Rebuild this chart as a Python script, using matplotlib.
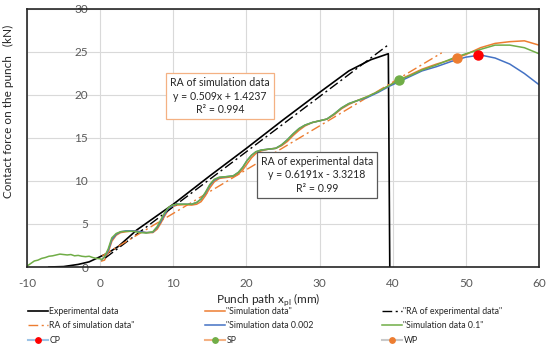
import matplotlib
matplotlib.use("Agg")
import matplotlib.pyplot as plt

plt.rcParams['font.family'] = ['Lato', 'DejaVu Sans']
plt.rcParams['axes.unicode_minus'] = False

# ---- data ----
exp_x = [-7, -5, -3, -1.5, 0, 1, 2.5, 5, 7.5, 10, 15, 20, 25, 30, 34, 37, 39.4, 39.6]
exp_y = [0, 0.05, 0.3, 0.6, 1.2, 1.6, 2.4, 4.3, 5.8, 7.3, 10.6, 13.8, 17.1, 20.3, 22.8, 24.1, 24.8, 0]

sim_x = [0.2, 0.6, 1.1, 1.6, 2.2, 2.8, 3.5, 4.5, 5.5, 6.3, 7.2, 7.8, 8.3, 8.8, 9.3, 9.9,
         10.5, 11.5, 12.5, 13.2, 13.8, 14.4, 15.0, 15.6, 16.3, 17.2, 18.2, 18.9, 19.5, 20.1,
         20.7, 21.3, 22.0, 23.0, 24.0, 24.8, 25.6, 26.4, 27.2, 28.0, 29.0, 30.0, 31.0, 32.0,
         33.0, 34.0, 35.0, 36.5, 38.0, 39.5, 41.0, 42.5, 44.0, 46.0, 48.0, 50.0, 52.0, 54.0,
         56.0, 58.0, 60.0]
sim_y = [0.7, 0.8, 1.7, 3.0, 3.7, 4.0, 4.1, 4.2, 4.1, 4.0, 4.0, 4.4, 5.1, 5.9, 6.6, 7.0,
         7.2, 7.25, 7.2, 7.3, 7.6, 8.3, 9.2, 9.9, 10.3, 10.4, 10.5, 10.8, 11.3, 12.0,
         12.7, 13.2, 13.5, 13.7, 13.8, 14.1, 14.6, 15.3, 15.9, 16.4, 16.8, 17.0, 17.2, 17.7,
         18.4, 18.9, 19.3, 19.8, 20.4, 21.1, 21.8, 22.4, 23.0, 23.6, 24.1, 24.7, 25.5, 26.0,
         26.2, 26.3, 25.8]
sim002_y = [0.85, 1.15, 1.9, 3.2, 3.8, 4.1, 4.2, 4.2, 4.1, 4.0, 4.05, 4.6, 5.3, 6.1, 6.8, 7.1,
            7.3, 7.3, 7.3, 7.5, 7.9, 8.6, 9.5, 10.1, 10.4, 10.5, 10.6, 11.0, 11.6, 12.4,
            13.0, 13.4, 13.6, 13.7, 13.8, 14.2, 14.8, 15.5, 16.1, 16.5, 16.8, 17.0, 17.2, 17.8,
            18.5, 19.0, 19.3, 19.7, 20.3, 21.0, 21.6, 22.2, 22.8, 23.3, 23.9, 24.4, 24.65, 24.3,
            23.6, 22.5, 21.2]
sim01_y = [0.85, 1.2, 2.1, 3.4, 3.9, 4.1, 4.15, 4.15, 4.0, 3.95, 4.1, 4.7, 5.5, 6.3, 6.9, 7.2,
           7.3, 7.3, 7.3, 7.5, 7.9, 8.7, 9.6, 10.2, 10.45, 10.5, 10.6, 11.0, 11.6, 12.4,
           13.0, 13.4, 13.6, 13.7, 13.8, 14.2, 14.8, 15.5, 16.1, 16.5, 16.8, 17.0, 17.2, 17.8,
           18.5, 19.0, 19.3, 19.8, 20.4, 21.1, 21.8, 22.3, 22.9, 23.5, 24.2, 24.8, 25.3, 25.8,
           25.8, 25.5, 24.8]
# green series also has a run-in before the punch touches
pre_x = [-10, -9.5, -9, -8.5, -8, -7.5, -7, -6.5, -6, -5.5, -5, -4.5, -4, -3.5, -3, -2.5,
         -2, -1.5, -1, -0.5, 0]
pre_y = [0.1, 0.4, 0.7, 0.8, 1.0, 1.1, 1.25, 1.3, 1.4, 1.5, 1.45, 1.4, 1.45, 1.3, 1.35, 1.25,
         1.2, 1.25, 1.1, 1.0, 0.95]

ra_exp_x = [0.7, 39.5]
ra_exp_y = [1.05, 25.9]
ra_sim_x = [0.3, 46.7]
ra_sim_y = [1.3, 24.9]

cp = (51.7, 24.65)
sp = (40.9, 21.7)
wp = (48.8, 24.3)

x_ticks = [-10, 0, 10, 20, 30, 40, 50, 60]
y_ticks = [0, 5, 10, 15, 20, 25, 30]

# ---- colours ----
orange = '#ED7D31'
blue = '#4472C4'
green = '#70AD47'
txt = '#595959'

fig = plt.figure(figsize=(5.5, 3.47), dpi=100)
ax = fig.add_axes([27 / 550, 1 - 267 / 347, 512 / 550, 258 / 347])

ax.plot(exp_x, exp_y, color='black', lw=1.2, label='Experimental data')
ax.plot(sim_x, sim_y, color=orange, lw=1.1, label='"Simulation data"')
ax.plot(ra_exp_x, ra_exp_y, color='black', lw=1.0, dashes=(7, 2.5, 1.5, 2.5),
        label='"RA of experimental data"')
ax.plot(ra_sim_x, ra_sim_y, color=orange, lw=1.0, dashes=(7, 2.5, 1.5, 2.5),
        label='RA of simulation data"')
ax.plot(sim_x, sim002_y, color=blue, lw=1.1, label='"Simulation data 0.002')
ax.plot(pre_x + sim_x, pre_y + sim01_y, color=green, lw=1.1, label='"Simulation data 0.1"')

ax.plot([cp[0]], [cp[1]], color='#9DC3E6', marker='o', ms=6.5, mfc='#FF0000', mec='#FF0000', label='CP')
ax.plot([sp[0]], [sp[1]], color='#F4B183', marker='o', ms=6.5, mfc=green, mec=green, label='SP')
ax.plot([wp[0]], [wp[1]], color='#C9C9C9', marker='o', ms=6.5, mfc=orange, mec=orange, label='WP')

ax.set_xlim(-10, 60)
ax.set_ylim(0, 30)
ax.set_xticks(x_ticks)
ax.set_yticks(y_ticks)
ax.grid(True, color='#D9D9D9', lw=0.8)
ax.set_axisbelow(True)
for s in ax.spines.values():
    s.set_color('#262626')
    s.set_linewidth(1.2)
# y tick labels sit on the x = 0 line like in Excel
ax.tick_params(axis='y', length=0, pad=-44, labelsize=8.5, labelcolor=txt)
ax.tick_params(axis='x', length=0, pad=8, labelsize=8.5, labelcolor=txt)

fig.text(8 / 550, 1 - 111 / 347, 'Contact force on the punch   (kN)', rotation=90,
         ha='center', va='center', fontsize=8.5, color='#262626')
fig.text(268 / 550, 1 - 300 / 347, 'Punch path x$_{\\mathregular{pl}}$ (mm)',
         ha='center', va='center', fontsize=8.5, color='#262626')

# regression annotation boxes
fig.text(220 / 550, 1 - 96 / 347, 'RA of simulation data\ny = 0.509x + 1.4237\nR² = 0.994',
         ha='center', va='center', fontsize=7.6, color='#262626', linespacing=1.3,
         bbox=dict(boxstyle='square,pad=0.35', fc='white', ec='#F4B183', lw=0.9))
fig.text(317 / 550, 1 - 175 / 347, 'RA of experimental data\ny = 0.6191x - 3.3218\nR² = 0.99',
         ha='center', va='center', fontsize=7.6, color='#262626', linespacing=1.3,
         bbox=dict(boxstyle='square,pad=0.35', fc='white', ec='#595959', lw=0.9))

# legend in three columns under the axis title
handles, labels = ax.get_legend_handles_labels()
columns = [[0, 3, 6], [1, 4, 7], [2, 5, 8]]
col_left = [28, 205, 382]
for idx, left in zip(columns, col_left):
    fig.legend([handles[i] for i in idx], [labels[i] for i in idx],
               loc='center left', bbox_to_anchor=(left / 550, 1 - 326 / 347),
               frameon=False, fontsize=6.3, borderpad=0, borderaxespad=0,
               handlelength=2.3, handletextpad=0.15, labelspacing=0.6,
               markerscale=0.6, labelcolor='#262626')

fig.savefig('out.png', dpi=100)
